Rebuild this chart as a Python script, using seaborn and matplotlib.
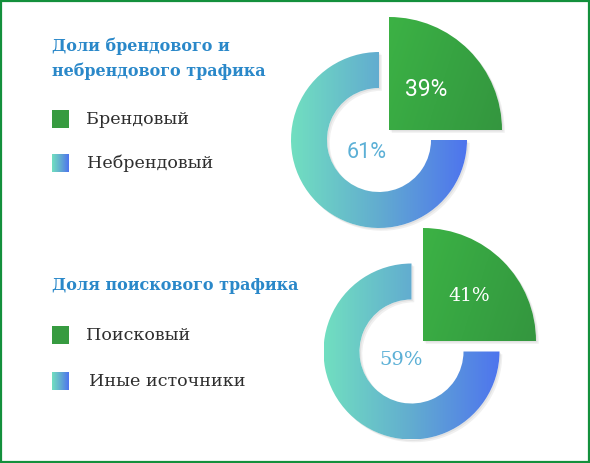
import numpy as np
import seaborn as sns
import matplotlib.pyplot as plt
from matplotlib.patches import Wedge, Rectangle
import matplotlib.patheffects as pe

# data
titles = ["Доли брендового и\nнебрендового трафика", "Доля поискового трафика"]
main_labels = ["Брендовый", "Поисковый"]
other_labels = ["Небрендовый", "Иные источники"]
main_share = [39, 41]
other_share = [61, 59]

sns.set_style("white")

W, H = 590, 463
ring_cmap = sns.blend_palette(["#71dfc0", "#62acd0", "#4e74ee"], as_cmap=True)
green_cmap = sns.blend_palette(["#3cb245", "#37a442", "#34963f"], as_cmap=True)
title_color = "#2a88c9"
text_color = "#2e2e2e"

fig = plt.figure(figsize=(W / 100, H / 100), dpi=100)
ax = fig.add_axes([0, 0, 1, 1])
ax.set_xlim(0, W)
ax.set_ylim(0, H)
ax.set_aspect("equal")
ax.axis("off")

# frame
ax.add_patch(Rectangle((1, 1), W - 2, H - 2, fill=False, ec="#13903c", lw=1.6))

grad_h = np.linspace(0, 1, 256).reshape(1, -1)
yy, xx = np.mgrid[0:1:100j, 0:1:100j]
grad_d = 0.75 * xx + 0.25 * (1 - yy)

shadow = [pe.SimplePatchShadow(offset=(2, -2), shadow_rgbFace="#000000", alpha=0.06),
          pe.SimplePatchShadow(offset=(1, -1), shadow_rgbFace="#000000", alpha=0.06),
          pe.Normal()]

# layout (pixel positions, image y measured from top)
charts = [
    dict(center=(379, 140), corner=(389, 130), title_y=59, leg_y=(119, 163),
         pct_font="Roboto", main_size=16.5, other_size=15.5,
         main_txt=(426, 89), other_txt=(367, 152)),
    dict(center=(411.5, 351.5), corner=(423, 341), title_y=285, leg_y=(335, 381),
         pct_font="DejaVu Serif", main_size=13.5, other_size=14,
         main_txt=(469, 296), other_txt=(401, 360)),
]
R_OUT, R_W, R_GREEN = 88, 36, 113

for i, c in enumerate(charts):
    cx, cy = c["center"][0], H - c["center"][1]
    gx, gy = c["corner"][0], H - c["corner"][1]

    ring = Wedge((cx, cy), R_OUT, 90, 360, width=R_W, fc="white", ec="none", zorder=2)
    ring.set_path_effects(shadow)
    ax.add_patch(ring)
    im = ax.imshow(grad_h, cmap=ring_cmap, aspect="auto", zorder=3,
                   extent=(cx - R_OUT, cx + R_OUT, cy - R_OUT, cy + R_OUT))
    im.set_clip_path(ring)

    sector = Wedge((gx, gy), R_GREEN, 0, 90, fc="white", ec="none", zorder=2)
    sector.set_path_effects(shadow)
    ax.add_patch(sector)
    im2 = ax.imshow(grad_d, cmap=green_cmap, aspect="auto", origin="lower", zorder=3,
                    extent=(gx, gx + R_GREEN, gy, gy + R_GREEN))
    im2.set_clip_path(sector)

    ax.text(c["main_txt"][0], H - c["main_txt"][1], f"{main_share[i]}%", color="white",
            fontsize=c["main_size"], family=c["pct_font"], ha="center", va="center", zorder=5)
    ax.text(c["other_txt"][0], H - c["other_txt"][1], f"{other_share[i]}%", color="#5cb0d6",
            fontsize=c["other_size"], family=c["pct_font"], ha="center", va="center", zorder=5)

    # title
    ax.text(52, H - c["title_y"], titles[i], color=title_color, fontsize=11.5,
            fontweight="bold", family="DejaVu Serif", ha="left", va="center",
            linespacing=1.55, zorder=5)

    # legend
    y1, y2 = c["leg_y"]
    ax.add_patch(Rectangle((52, H - y1 - 9), 17, 18, fc="#379b40", ec="none", zorder=4))
    ax.imshow(grad_h, cmap=ring_cmap, aspect="auto", zorder=4,
              extent=(52, 69, H - y2 - 9, H - y2 + 9))
    ax.text(86, H - y1, main_labels[i], color=text_color, fontsize=12.6,
            family="DejaVu Serif", ha="left", va="center", zorder=5)
    ax.text(87 + 2 * i, H - y2, other_labels[i], color=text_color, fontsize=12.6,
            family="DejaVu Serif", ha="left", va="center", zorder=5)

ax.set_xlim(0, W)
ax.set_ylim(0, H)
fig.savefig("out.png", dpi=100)
